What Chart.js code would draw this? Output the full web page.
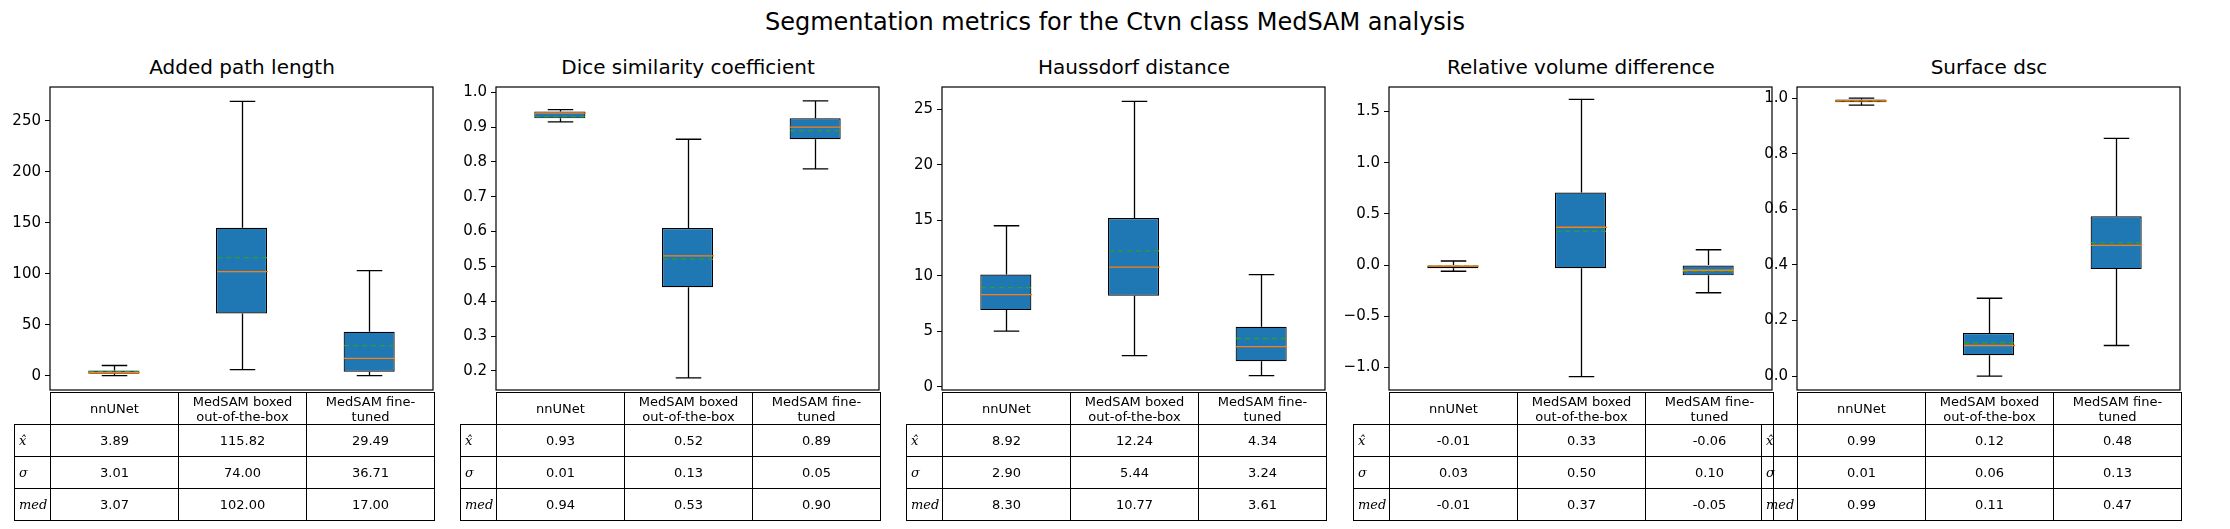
<!DOCTYPE html>
<html><head><meta charset="utf-8">
<script src="https://cdn.jsdelivr.net/npm/chart.js@4"></script>
<style>
body{margin:0;background:#fff;font-family:"DejaVu Sans",sans-serif;width:2230px;height:529px;position:relative;overflow:hidden}
.t{position:absolute;text-align:center;color:#000;white-space:nowrap}
canvas{position:absolute}
table{position:absolute;border-collapse:collapse;font-size:13px;table-layout:fixed}
td{border:1px solid #000;text-align:center;padding:0;height:31px;line-height:15px}
td.l{font-style:italic;text-align:left;padding-left:4px;font-family:"DejaVu Serif",serif}
td.e{border:none}
</style></head><body>
<div class="t" style="left:0;width:2230px;top:8px;font-size:24px">Segmentation metrics for the Ctvn class MedSAM analysis</div>
<script>
const categories = ["nnUNet", "MedSAM boxed out-of-the-box", "MedSAM fine-tuned"];
const headerLabels = ["nnUNet", "MedSAM boxed<br>out-of-the-box", "MedSAM fine-<br>tuned"];
const titles = ["Added path length", "Dice similarity coefficient", "Haussdorf distance", "Relative volume difference", "Surface dsc"];
const plotLefts = [50, 496, 942, 1389, 1797];
const plotWidth = 384;
// whisker low, q1, median, q3, whisker high per category
const whiskerLow = [[0, 6, 0], [0.915, 0.18, 0.78], [5, 2.8, 1.0], [-0.06, -1.09, -0.27], [0.975, 0.0, 0.11]];
const q1 = [[2, 61, 4], [0.925, 0.44, 0.865], [6.9, 8.2, 2.3], [-0.03, -0.03, -0.10], [0.985, 0.075, 0.385]];
const median = [[3.07, 102, 17], [0.94, 0.53, 0.90], [8.3, 10.77, 3.61], [-0.01, 0.37, -0.05], [0.99, 0.11, 0.47]];
const q3 = [[5, 145, 43], [0.945, 0.61, 0.925], [10.1, 15.2, 5.4], [0.0, 0.71, 0.0], [0.995, 0.155, 0.575]];
const whiskerHigh = [[10, 269, 103], [0.95, 0.865, 0.975], [14.5, 25.7, 10.1], [0.04, 1.62, 0.15], [1.0, 0.28, 0.855]];
const means = [[3.89, 115.82, 29.49], [0.93, 0.52, 0.89], [8.92, 12.24, 4.34], [-0.01, 0.33, -0.06], [0.99, 0.12, 0.48]];
const stds = [[3.01, 74.00, 36.71], [0.01, 0.13, 0.05], [2.90, 5.44, 3.24], [0.03, 0.50, 0.10], [0.01, 0.06, 0.13]];
const yMin = [-14, 0.145, -0.3, -1.22, -0.05];
const yMax = [283, 1.015, 27, 1.74, 1.04];
const yStep = [50, 0.1, 5, 0.5, 0.2];
const yDecimals = [0, 1, 0, 1, 1];

const boxPlugin = {
  id: "boxparts",
  afterDatasetsDraw(chart) {
    const p = chart.options.plugins.boxparts, ctx = chart.ctx;
    const x = chart.scales.x, y = chart.scales.y, a = chart.chartArea;
    const half = x.width / 3 * 0.4 / 2;
    ctx.save();
    for (let i = 0; i < 3; i++) {
      const cx = Math.round(x.getPixelForValue(i)) + 0.5;
      ctx.strokeStyle = "#000"; ctx.lineWidth = 1.3; ctx.setLineDash([]);
      ctx.beginPath();
      ctx.moveTo(cx, y.getPixelForValue(p.q1[i])); ctx.lineTo(cx, y.getPixelForValue(p.lo[i]));
      ctx.moveTo(cx, y.getPixelForValue(p.q3[i])); ctx.lineTo(cx, y.getPixelForValue(p.hi[i]));
      ctx.moveTo(cx - half / 2, y.getPixelForValue(p.lo[i])); ctx.lineTo(cx + half / 2, y.getPixelForValue(p.lo[i]));
      ctx.moveTo(cx - half / 2, y.getPixelForValue(p.hi[i])); ctx.lineTo(cx + half / 2, y.getPixelForValue(p.hi[i]));
      ctx.stroke();
      ctx.strokeStyle = "#2ca02c"; ctx.setLineDash([5, 4]);
      ctx.beginPath(); ctx.moveTo(cx - half, y.getPixelForValue(p.mean[i])); ctx.lineTo(cx + half, y.getPixelForValue(p.mean[i])); ctx.stroke();
      ctx.strokeStyle = "#ff7f0e"; ctx.setLineDash([]);
      ctx.beginPath(); ctx.moveTo(cx - half, y.getPixelForValue(p.med[i])); ctx.lineTo(cx + half, y.getPixelForValue(p.med[i])); ctx.stroke();
    }
    ctx.strokeStyle = "#000"; ctx.lineWidth = 1.2;
    ctx.strokeRect(a.left, a.top, a.right - a.left, a.bottom - a.top);
    ctx.restore();
  }
};

const fmt = v => v.toFixed(2);
titles.forEach((title, k) => {
  const left = plotLefts[k];
  const t = document.createElement("div");
  t.className = "t"; t.style.cssText = `left:${left}px;width:${plotWidth}px;top:55px;font-size:20px`;
  t.textContent = title; document.body.appendChild(t);

  const c = document.createElement("canvas");
  c.width = plotWidth + 50; c.height = 329;
  c.style.left = (left - 50) + "px"; c.style.top = "74px";
  document.body.appendChild(c);
  new Chart(c, {
    type: "bar",
    data: { labels: categories, datasets: [{
      data: q1[k].map((v, i) => [v, q3[k][i]]),
      backgroundColor: "#1f77b4", borderColor: "#000", borderWidth: 1.2, borderSkipped: false,
      barPercentage: 0.4, categoryPercentage: 1
    }]},
    options: {
      responsive: false, animation: false, devicePixelRatio: 1,
      layout: { padding: { top: 10, right: 1, bottom: 0, left: 0 } },
      plugins: { legend: { display: false }, tooltip: { enabled: false },
        boxparts: { lo: whiskerLow[k], q1: q1[k], med: median[k], q3: q3[k], hi: whiskerHigh[k], mean: means[k] } },
      scales: {
        x: { display: false, offset: true },
        y: { min: yMin[k], max: yMax[k],
          grid: { display: true, drawOnChartArea: false, drawTicks: true, tickLength: 5, color: "#000", lineWidth: 1 },
          border: { display: false },
          afterFit: s => { s.width = 50; },
          afterBuildTicks: s => {
            const ticks = [];
            for (let v = Math.ceil(yMin[k] / yStep[k] - 1e-9) * yStep[k]; v <= yMax[k] + 1e-9; v += yStep[k]) ticks.push({ value: +v.toFixed(4) });
            s.ticks = ticks;
          },
          ticks: { color: "#000", padding: 4, font: { size: 15, family: "DejaVu Sans" },
            callback: v => v.toFixed(yDecimals[k]).replace("-", "\u2212") } }
      }
    },
    plugins: [boxPlugin]
  });

  const tb = document.createElement("table");
  tb.style.left = (left - 36) + "px"; tb.style.top = "392px"; tb.style.width = (plotWidth + 36) + "px";
  const col = `<colgroup><col style="width:36px"><col style="width:128px"><col style="width:128px"><col style="width:128px"></colgroup>`;
  const row = (lab, vals) => `<tr><td class="l">${lab}</td>${vals.map(v => `<td>${fmt(v)}</td>`).join("")}</tr>`;
  tb.innerHTML = col + `<tr><td class="e"></td>${headerLabels.map(h => `<td>${h}</td>`).join("")}</tr>` +
    row("x&#770;", means[k]) + row("&sigma;", stds[k]) + row("med", median[k]);
  document.body.appendChild(tb);
});
</script>
</body></html>
